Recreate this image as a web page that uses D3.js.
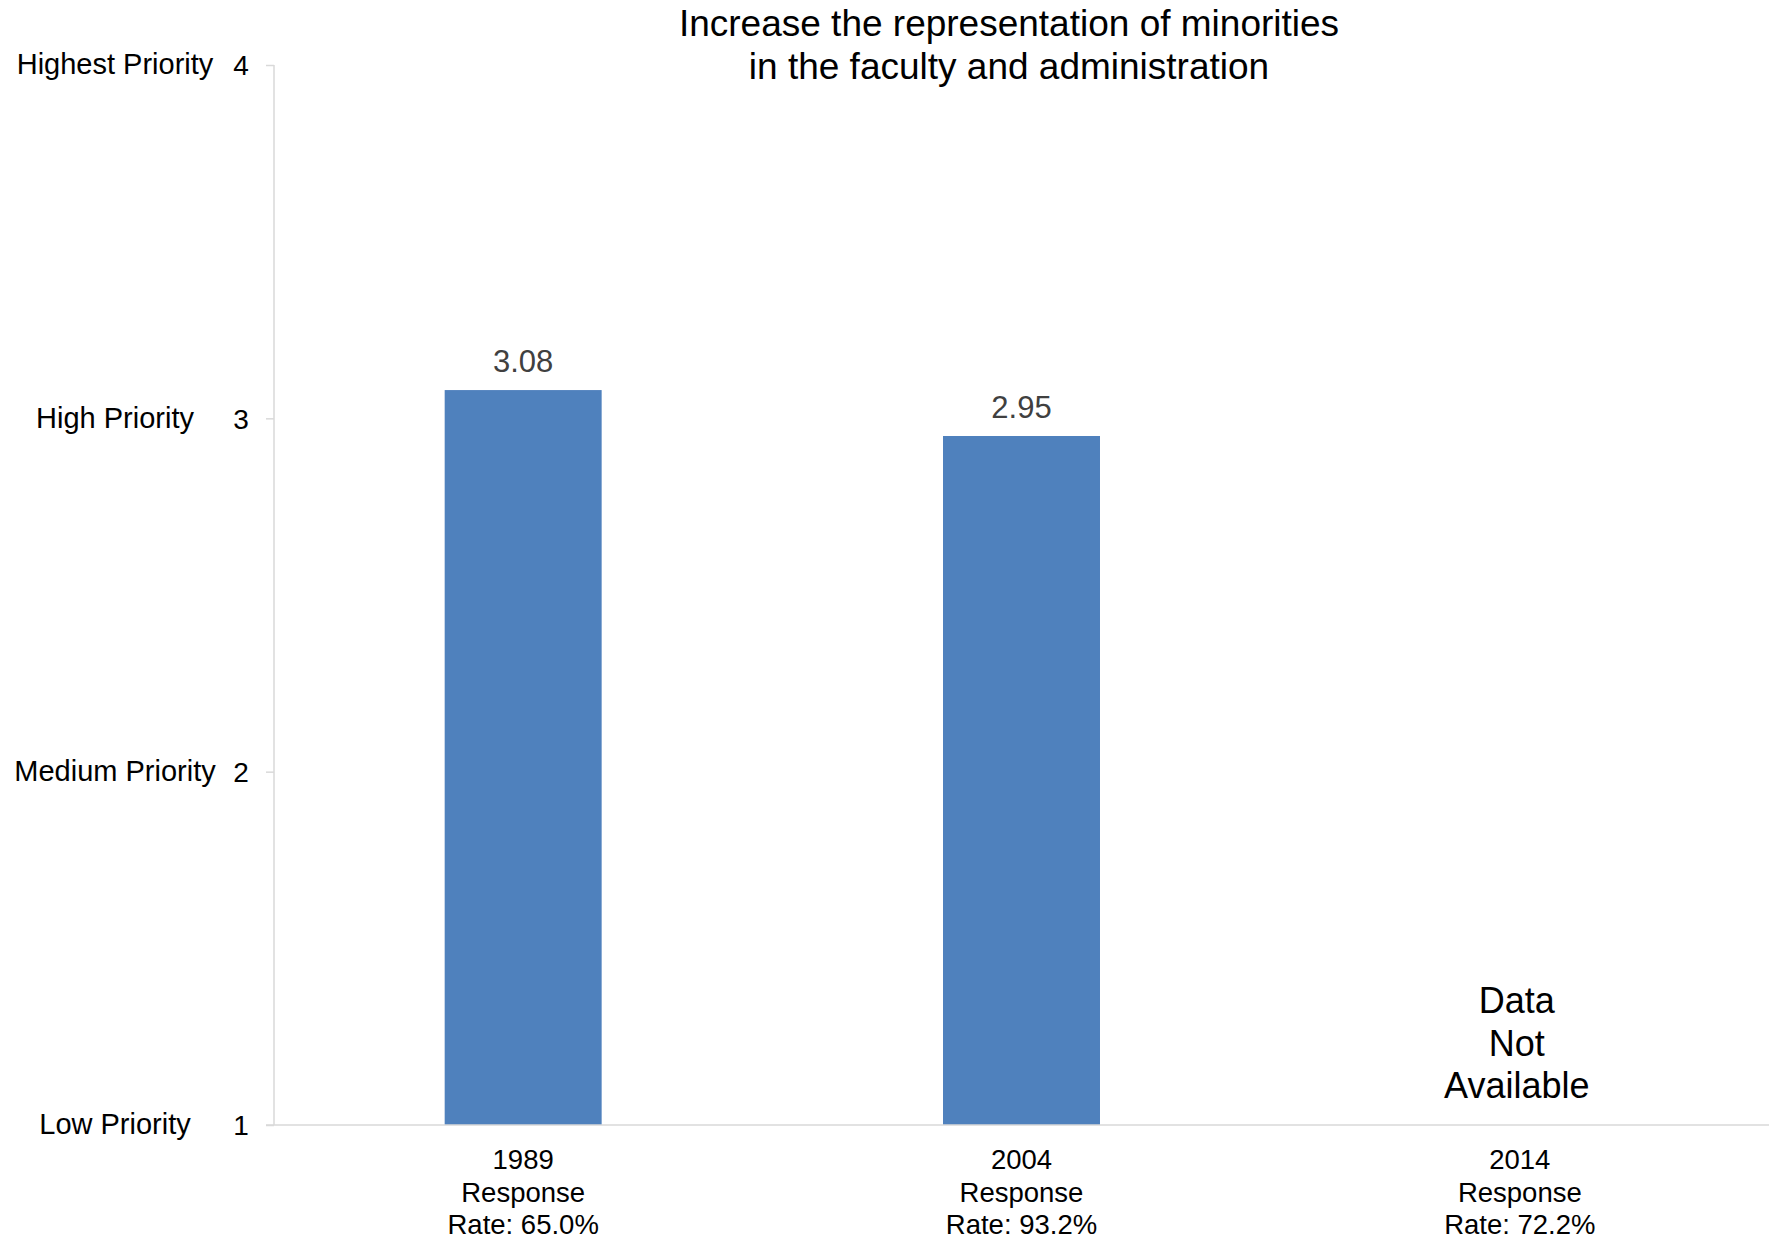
<!DOCTYPE html>
<html><head><meta charset="utf-8">
<script src="https://cdn.jsdelivr.net/npm/d3@7"></script>
<style>
html,body{margin:0;padding:0;background:#fff;}
text{font-family:"Liberation Sans",Arial,sans-serif;}
</style></head>
<body><svg id="chart" width="1769" height="1240"></svg>
<script>
const categories = ["1989", "2004", "2014"];
const responseRates = ["Response Rate: 65.0%", "Response Rate: 93.2%", "Response Rate: 72.2%"];
const values = [3.08, 2.95, null];
const yTicks = [1, 2, 3, 4];
const yTickNames = ["Low Priority", "Medium Priority", "High Priority", "Highest Priority"];
const titleLines = ["Increase the representation of minorities", "in the faculty and administration"];
const missingLabel = ["Data", "Not", "Available"];

const svg = d3.select("#chart");
const margin = {left: 274, right: 0, top: 65, bottom: 115};
const W = 1769, H = 1240;
const x = d3.scaleBand().domain(categories).range([margin.left, W - margin.right]).paddingInner(0.685).paddingOuter(0.3425);
const y = d3.scaleLinear().domain([1, 4]).range([H - margin.bottom, margin.top]);
const grey = "#d9d9d9";

// title
svg.append("g").selectAll("text").data(titleLines).join("text")
  .attr("x", 1009).attr("y", (d, i) => 36 + i * 43)
  .attr("text-anchor", "middle").attr("font-size", 37).attr("fill", "#000").text(d => d);

// y axis
const yAxis = svg.append("g").attr("transform", `translate(${margin.left},0)`)
  .call(d3.axisLeft(y).tickValues(yTicks).tickSize(8).tickFormat(d3.format("d")));
yAxis.select(".domain").attr("stroke", grey).attr("stroke-width", 1.5).attr("d", `M0,${y(4)}V${y(1)}`);
yAxis.selectAll(".tick line").attr("stroke", grey).attr("stroke-width", 1.5);
yAxis.selectAll(".tick text").attr("x", -33).attr("text-anchor", "middle").attr("dy", "0.35em")
  .attr("font-size", 28).attr("fill", "#000");
yAxis.selectAll(".tick").append("text").attr("class", "name")
  .attr("x", 115 - margin.left).attr("dy", "0.3em").attr("text-anchor", "middle")
  .attr("font-size", 29).attr("fill", "#000")
  .text(d => yTickNames[yTicks.indexOf(d)]);

// bars
svg.append("g").selectAll("rect").data(categories.map((c, i) => ({c, v: values[i]})).filter(d => d.v != null))
  .join("rect")
  .attr("x", d => x(d.c)).attr("width", x.bandwidth())
  .attr("y", d => y(d.v)).attr("height", d => y(1) - y(d.v))
  .attr("fill", "#4f81bd");

// value labels
svg.append("g").selectAll("text").data(categories.map((c, i) => ({c, v: values[i]})).filter(d => d.v != null))
  .join("text")
  .attr("x", d => x(d.c) + x.bandwidth() / 2).attr("y", d => y(d.v) - 18)
  .attr("text-anchor", "middle").attr("font-size", 31).attr("fill", "#404040")
  .text(d => d3.format(".2f")(d.v));

// missing data label
const missing = categories.filter((c, i) => values[i] == null);
missing.forEach(c => {
  svg.append("g").selectAll("text").data(missingLabel).join("text")
    .attr("x", x(c) + x.bandwidth() / 2 - 3).attr("y", (d, i) => 1013 + i * 42.5)
    .attr("text-anchor", "middle").attr("font-size", 36).attr("fill", "#000").text(d => d);
});

// x axis
const xAxis = svg.append("g").attr("transform", `translate(0,${y(1)})`)
  .call(d3.axisBottom(x).tickSize(0).tickFormat(() => ""));
xAxis.select(".domain").attr("stroke", grey).attr("stroke-width", 1.5).attr("d", `M${margin.left - 8},0H${W}`);
xAxis.selectAll(".tick").each(function(d, i) {
  const lines = [d, "Response", responseRates[i].replace("Response ", "")];
  d3.select(this).selectAll("text.lbl").data(lines).join("text").attr("class", "lbl")
    .attr("x", 0).attr("y", (t, j) => 44 + j * 32.7)
    .attr("text-anchor", "middle").attr("font-size", 27.5).attr("fill", "#000").text(t => t);
});
</script></body></html>
